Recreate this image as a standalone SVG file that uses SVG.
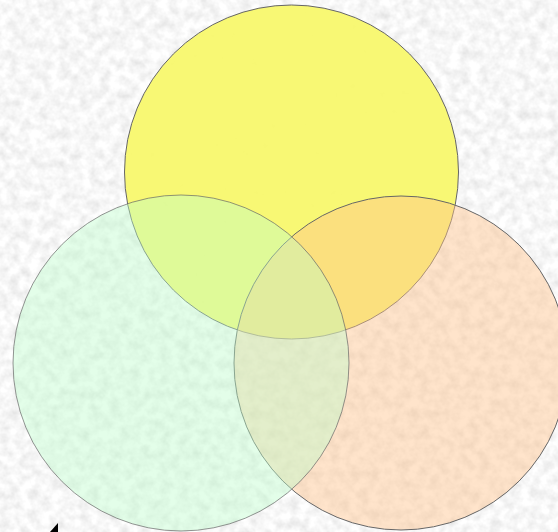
<svg xmlns="http://www.w3.org/2000/svg" width="558" height="532" viewBox="0 0 558 532">
<defs>
<filter id="paper" x="0" y="0" width="100%" height="100%">
<feTurbulence type="fractalNoise" baseFrequency="0.1" numOctaves="3" seed="7"/>
<feColorMatrix type="matrix" values="0.38 0 0 0 0.74  0.38 0 0 0 0.74  0.38 0 0 0 0.74  0 0 0 0 1"/>
</filter>
<style>
.c{stroke:#666;stroke-width:1}
</style>
</defs>
<rect width="558" height="532" fill="#ebebeb"/>
<rect width="558" height="532" filter="url(#paper)"/>
<g id="yellow"><circle class="c" cx="291.5" cy="172" r="167" fill="#f8f86e" fill-opacity="0.96"/></g>
<g id="orange"><circle class="c" cx="401" cy="363" r="167" fill="#ffc38c" fill-opacity="0.45" stroke="#444"/></g>
<g id="green"><circle class="c" cx="181" cy="363" r="168" fill="#bdfccb" fill-opacity="0.42" stroke-opacity="0.7"/></g>
<g id="mark"><path d="M58,523 L58,532 L50,532 Z" fill="#000"/></g>
</svg>
